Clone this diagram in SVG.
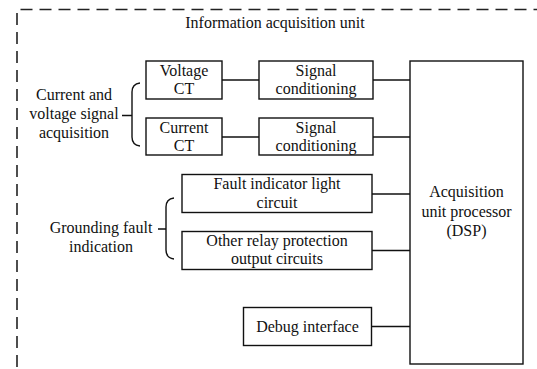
<svg xmlns="http://www.w3.org/2000/svg" width="537" height="369" viewBox="0 0 537 369">
  <rect width="537" height="369" fill="#fff"/>

  <!-- dashed boundary of the acquisition unit -->
  <g id="unit-frame">
    <path d="M17,369 L17,9.5 L537,9.5" fill="none" stroke="#222" stroke-width="1.6" stroke-dasharray="12 7" stroke-dashoffset="-2"/>
    <text x="275" y="28" font-family="Liberation Serif" font-size="16" text-anchor="middle" fill="#111">Information acquisition unit</text>
  </g>

  <!-- connectors -->
  <g id="connectors" fill="none" stroke="#111" stroke-width="1.4">
    <line x1="222" y1="80" x2="259" y2="80"/>
    <line x1="222" y1="137" x2="259" y2="137"/>
    <line x1="373" y1="80" x2="410" y2="80"/>
    <line x1="373" y1="137" x2="410" y2="137"/>
    <line x1="372" y1="194" x2="410" y2="194"/>
    <line x1="372" y1="250.5" x2="410" y2="250.5"/>
    <line x1="372" y1="326.5" x2="410" y2="326.5"/>
  </g>

  <!-- group labels with braces -->
  <g id="signal-acquisition-group">
    <text x="74" y="100" font-family="Liberation Serif" font-size="16" text-anchor="middle" fill="#111">Current and</text>
    <text x="74" y="119" font-family="Liberation Serif" font-size="16" text-anchor="middle" fill="#111">voltage signal</text>
    <text x="74" y="138" font-family="Liberation Serif" font-size="16" text-anchor="middle" fill="#111">acquisition</text>
    <path d="M140,83 Q132,84 132,92 L132,137 Q132,145 140,146 M122,115.5 L132,115.5" fill="none" stroke="#111" stroke-width="1.4"/>
  </g>
  <g id="grounding-fault-group">
    <text x="101" y="233" font-family="Liberation Serif" font-size="16" text-anchor="middle" fill="#111">Grounding fault</text>
    <text x="101" y="252" font-family="Liberation Serif" font-size="16" text-anchor="middle" fill="#111">indication</text>
    <path d="M174,198 Q166,199 166,207 L166,250 Q166,258 174,259 M158,229 L166,229" fill="none" stroke="#111" stroke-width="1.4"/>
  </g>

  <g id="voltage-ct">
    <rect x="146" y="61" width="76" height="38" fill="#fff" stroke="#111" stroke-width="1.4"/>
    <text x="184" y="76" font-family="Liberation Serif" font-size="16" text-anchor="middle" fill="#111">Voltage</text>
    <text x="184" y="94" font-family="Liberation Serif" font-size="16" text-anchor="middle" fill="#111">CT</text>
  </g>
  <g id="current-ct">
    <rect x="146" y="118" width="76" height="37" fill="#fff" stroke="#111" stroke-width="1.4"/>
    <text x="184" y="133" font-family="Liberation Serif" font-size="16" text-anchor="middle" fill="#111">Current</text>
    <text x="184" y="151" font-family="Liberation Serif" font-size="16" text-anchor="middle" fill="#111">CT</text>
  </g>
  <g id="signal-conditioning-1">
    <rect x="259" y="61" width="114" height="38" fill="#fff" stroke="#111" stroke-width="1.4"/>
    <text x="316" y="76" font-family="Liberation Serif" font-size="16" text-anchor="middle" fill="#111">Signal</text>
    <text x="316" y="94" font-family="Liberation Serif" font-size="16" text-anchor="middle" fill="#111">conditioning</text>
  </g>
  <g id="signal-conditioning-2">
    <rect x="259" y="118" width="114" height="37" fill="#fff" stroke="#111" stroke-width="1.4"/>
    <text x="316" y="133" font-family="Liberation Serif" font-size="16" text-anchor="middle" fill="#111">Signal</text>
    <text x="316" y="151" font-family="Liberation Serif" font-size="16" text-anchor="middle" fill="#111">conditioning</text>
  </g>
  <g id="fault-indicator">
    <rect x="182" y="174.5" width="190" height="38" fill="#fff" stroke="#111" stroke-width="1.4"/>
    <text x="277" y="189" font-family="Liberation Serif" font-size="16" text-anchor="middle" fill="#111">Fault indicator light</text>
    <text x="277" y="207.5" font-family="Liberation Serif" font-size="16" text-anchor="middle" fill="#111">circuit</text>
  </g>
  <g id="relay-outputs">
    <rect x="182" y="231.5" width="190" height="38" fill="#fff" stroke="#111" stroke-width="1.4"/>
    <text x="277" y="246" font-family="Liberation Serif" font-size="16" text-anchor="middle" fill="#111">Other relay protection</text>
    <text x="277" y="264" font-family="Liberation Serif" font-size="16" text-anchor="middle" fill="#111">output circuits</text>
  </g>
  <g id="debug-interface">
    <rect x="243.5" y="307.5" width="128" height="38" fill="#fff" stroke="#111" stroke-width="1.4"/>
    <text x="307.5" y="331.5" font-family="Liberation Serif" font-size="16" text-anchor="middle" fill="#111">Debug interface</text>
  </g>
  <g id="dsp">
    <rect x="410" y="61" width="113" height="303" fill="#fff" stroke="#111" stroke-width="1.4"/>
    <text x="466.5" y="197" font-family="Liberation Serif" font-size="16" text-anchor="middle" fill="#111">Acquisition</text>
    <text x="466.5" y="216.5" font-family="Liberation Serif" font-size="16" text-anchor="middle" fill="#111">unit processor</text>
    <text x="466.5" y="236" font-family="Liberation Serif" font-size="16" text-anchor="middle" fill="#111">(DSP)</text>
  </g>
</svg>
